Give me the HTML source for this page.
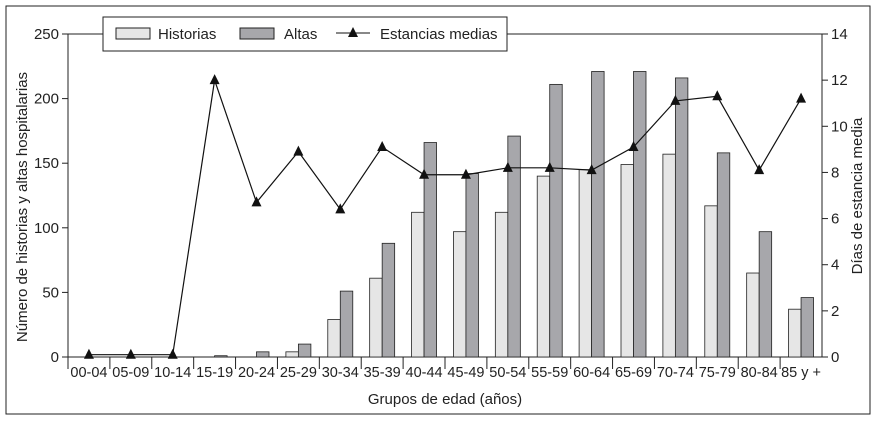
<!DOCTYPE html>
<html><head><meta charset="utf-8"><style>
body{margin:0;background:#fff;}
svg text{font-family:"Liberation Sans",sans-serif;fill:#222;}
</style></head><body>
<svg id="chart" width="876" height="420" xmlns="http://www.w3.org/2000/svg">
<rect x="6" y="6" width="864" height="408" fill="#fff" stroke="#222" stroke-width="1"/>
<g id="plot"></g>
</svg>
<script>
const categories=["00-04","05-09","10-14","15-19","20-24","25-29","30-34","35-39","40-44","45-49","50-54","55-59","60-64","65-69","70-74","75-79","80-84","85 y +"];
const historias=[0,0,0,0,0,4,29,61,112,97,112,140,145,149,157,117,65,37];
const altas=[0,0,0,1,4,10,51,88,166,142,171,211,221,221,216,158,97,46];
const estancias=[0.1,0.1,0.1,12,6.7,8.9,6.4,9.1,7.9,7.9,8.2,8.2,8.1,9.1,11.1,11.3,8.1,11.2];
const leftTicks=[0,50,100,150,200,250];
const rightTicks=[0,2,4,6,8,10,12,14];
const NS="http://www.w3.org/2000/svg";
const g=document.getElementById('plot');
const X0=68,X1=822,Y0=357,Y1=34;
const bw=(X1-X0)/categories.length;
const yL=v=>Y0-v*(Y0-Y1)/250;
const yR=v=>Y0-v*(Y0-Y1)/14;
const xc=i=>X0+(i+0.5)*bw;
function mk(tag,attrs,parent){const e=document.createElementNS(NS,tag);for(const k in attrs)e.setAttribute(k,attrs[k]);(parent||g).appendChild(e);return e;}
let e;
e=mk('line',{x1:X0,y1:Y1,x2:X0,y2:Y0,stroke:'#222'});


e=mk('line',{x1:X1,y1:Y1,x2:X1,y2:Y0,stroke:'#222'});


e=mk('line',{x1:X0,y1:Y0,x2:X1,y2:Y0,stroke:'#222'});


e=mk('line',{x1:X0,y1:Y1,x2:X1,y2:Y1,stroke:'#222'});


leftTicks.forEach(v=>{
  mk('line',{x1:X0-6,y1:yL(v),x2:X0,y2:yL(v),stroke:'#222'});
  e=mk('text',{x:X0-9,y:yL(v)+5,'text-anchor':'end','font-size':15});
  e.textContent=v;
  
  
});
rightTicks.forEach(v=>{
  mk('line',{x1:X1,y1:yR(v),x2:X1+6,y2:yR(v),stroke:'#222'});
  e=mk('text',{x:X1+9,y:yR(v)+5,'font-size':15});
  e.textContent=v;
  
  
});
categories.forEach((c,i)=>{
  const xl=X0+i*bw;
  mk('line',{x1:xl,y1:Y0,x2:xl,y2:Y0+12,stroke:'#222'});
  e=mk('text',{x:xc(i),y:Y0+20,'text-anchor':'middle','font-size':14.5});
  e.textContent=c;
  if(i===3)e.setAttribute('fill','#777');
  
  
  if(historias[i]>0){
    e=mk('rect',{x:xc(i)-12.5,y:yL(historias[i]),width:12.5,height:Y0-yL(historias[i]),fill:'#e6e6e6',stroke:'#222','stroke-width':0.8});
    
    
  }
  if(altas[i]>0){
    e=mk('rect',{x:xc(i),y:yL(altas[i]),width:12.5,height:Y0-yL(altas[i]),fill:'#a7a7ab',stroke:'#222','stroke-width':0.8});
    
    
  }
});
e=mk('polyline',{points:estancias.map((v,i)=>xc(i)+','+yR(v)).join(' '),fill:'none',stroke:'#111','stroke-width':1.2});


estancias.forEach((v,i)=>{
  const x=xc(i),y=yR(v);
  e=mk('polygon',{points:`${x},${y-6} ${x-5},${y+4} ${x+5},${y+4}`,fill:'#111'});
  
  
});
e=mk('rect',{x:103,y:17,width:404,height:34,fill:'#fff',stroke:'#222'});


e=mk('rect',{x:116,y:28,width:34,height:11,fill:'#e6e6e6',stroke:'#222'});


e=mk('text',{x:158,y:39,'font-size':15});e.textContent='Historias';


e=mk('rect',{x:240,y:28,width:34,height:11,fill:'#a7a7ab',stroke:'#222'});


e=mk('text',{x:284,y:39,'font-size':15});e.textContent='Altas';


mk('line',{x1:336,y1:33,x2:370,y2:33,stroke:'#111'});
e=mk('polygon',{points:'353,27 348,37 358,37',fill:'#111'});


e=mk('text',{x:380,y:39,'font-size':15});e.textContent='Estancias medias';


e=mk('text',{x:445,y:404,'text-anchor':'middle','font-size':15});e.textContent='Grupos de edad (años)';


e=mk('text',{transform:'translate(27,207) rotate(-90)','text-anchor':'middle','font-size':15});e.textContent='Número de historias y altas hospitalarias';


e=mk('text',{transform:'translate(862,196) rotate(-90)','text-anchor':'middle','font-size':15});e.textContent='Días de estancia media';


</script>
</body></html>
